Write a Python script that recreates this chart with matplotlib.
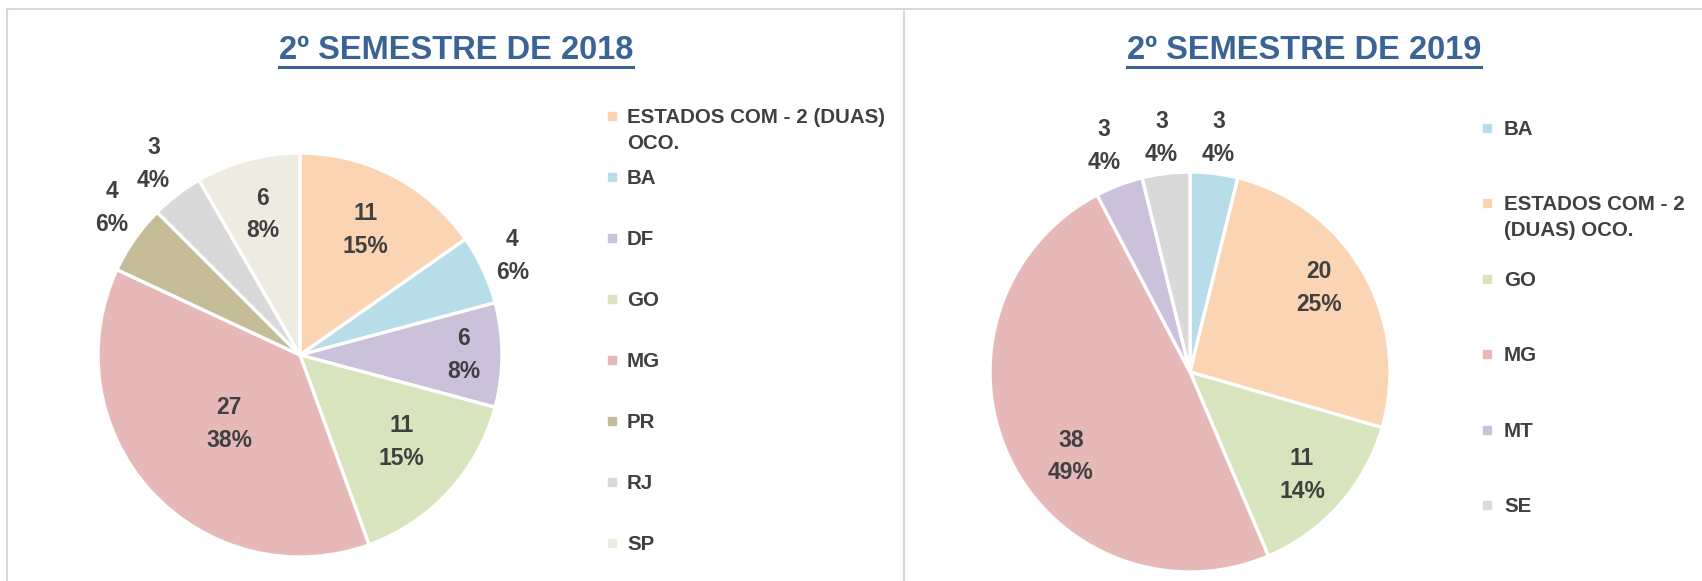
import numpy as np
import matplotlib
matplotlib.use("Agg")
import matplotlib.pyplot as plt
from matplotlib.lines import Line2D
from matplotlib.patches import Rectangle

W, H = 1702, 581
DPI = 100

FONT = ["Liberation Sans", "DejaVu Sans"]
TXT = "#404040"
TITLE_C = "#3A6496"
BORDER = "#D9D9D9"

# ----------------------------
# Dados
# ----------------------------
title_2018 = "2º SEMESTRE DE 2018"
labels_2018 = ["ESTADOS COM - 2 (DUAS)\nOCO.", "BA", "DF", "GO", "MG", "PR", "RJ", "SP"]
values_2018 = [11, 4, 6, 11, 27, 4, 3, 6]
pct_2018 = [15, 6, 8, 15, 38, 6, 4, 8]
colors_2018 = ["#FBD4B4", "#B7DDE8", "#CCC1DA", "#D7E4BD",
               "#E6B9B8", "#C4BD97", "#D9D9D9", "#EEECE1"]

title_2019 = "2º SEMESTRE DE 2019"
labels_2019 = ["BA", "ESTADOS COM - 2\n(DUAS) OCO.", "GO", "MG", "MT", "SE"]
values_2019 = [3, 20, 11, 38, 3, 3]
pct_2019 = [4, 25, 14, 49, 4, 4]
colors_2019 = ["#B7DDE8", "#FBD4B4", "#D7E4BD", "#E6B9B8", "#CCC1DA", "#D9D9D9"]

# posição dos rótulos: distância radial (fração do raio) e ajuste de ângulo (graus, horário)
dist_2018 = [0.70, 1.16, 0.81, 0.66, 0.49, 1.18, 1.19, 0.72]
adj_2018 = [0, 0, 0, -2, -2, 3, 0, 0]
dist_2019 = [1.18, 0.77, 0.76, 0.73, 1.21, 1.18]
adj_2019 = [0, -3, 1, -10, 0, 0]


def fx(x):
    return x / W


def fy(y):
    return 1 - y / H


fig = plt.figure(figsize=(W / DPI, H / DPI), dpi=DPI)
fig.patch.set_facecolor("white")


def draw_pie(cx, cy, r, values, pcts, colors, dists, adjs):
    ax = fig.add_axes([fx(cx - r), fy(cy + r), 2 * r / W, 2 * r / H])
    wedges, _ = ax.pie(values, colors=colors, startangle=90, counterclock=False,
                       wedgeprops=dict(edgecolor="white", linewidth=2.4))
    for w, v, p, d, a in zip(wedges, values, pcts, dists, adjs):
        ang = np.deg2rad((w.theta1 + w.theta2) / 2 - a)
        ax.text(d * np.cos(ang), d * np.sin(ang), f"{v}\n{p}%",
                ha="center", va="center", fontsize=16.5, fontweight="bold",
                family=FONT, color=TXT, linespacing=1.55)
    ax.set_xlim(-1, 1)
    ax.set_ylim(-1, 1)
    ax.set_aspect("equal")
    ax.axis("off")
    return ax


def draw_legend(xm, xt, y0, pitch, labels, colors):
    for i, (lab, c) in enumerate(zip(labels, colors)):
        y = y0 + i * pitch
        fig.patches.append(Rectangle((fx(xm - 4), fy(y + 4)), 8 / W, 8 / H,
                                     transform=fig.transFigure, color=c))
        fig.text(fx(xt), fy(y - 8), lab, ha="left", va="top", fontsize=14.8,
                 fontweight="bold", family=FONT, color=TXT, linespacing=1.45)


draw_pie(300, 355, 202, values_2018, pct_2018, colors_2018, dist_2018, adj_2018)
draw_pie(1190, 372, 200, values_2019, pct_2019, colors_2019, dist_2019, adj_2019)

draw_legend(612, 627, 116, 61, labels_2018, colors_2018)
draw_legend(1487, 1504, 128, 75.4, labels_2019, colors_2019)

titles = []
for cx, t in [(456, title_2018), (1304, title_2019)]:
    titles.append(fig.text(fx(cx), fy(59), t, ha="center", va="baseline",
                           fontsize=23.5, fontweight="bold", family=FONT,
                           color=TITLE_C))

# bordas dos painéis
for xs, ys in [([7, W], [9, 9]), ([7, 7], [9, H]), ([904, 904], [9, H])]:
    fig.add_artist(Line2D([fx(x) for x in xs], [fy(y) for y in ys],
                          transform=fig.transFigure, color=BORDER, lw=1.5))

# sublinhado dos títulos
fig.canvas.draw()
for t in titles:
    bb = t.get_window_extent()
    fig.add_artist(Line2D([bb.x0 / W, bb.x1 / W], [fy(67), fy(67)],
                          transform=fig.transFigure, color=TITLE_C, lw=2.2))

fig.savefig("out.png", dpi=DPI)
